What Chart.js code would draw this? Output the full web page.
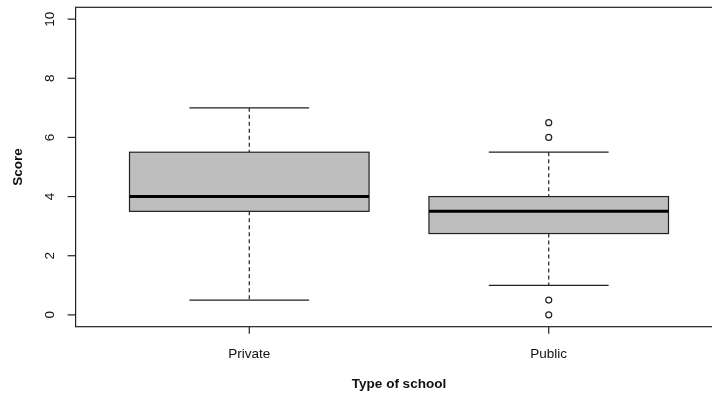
<!DOCTYPE html>
<html lang="en">
<head>
<meta charset="UTF-8" />
<title>Score by type of school</title>
<script src="https://cdn.jsdelivr.net/npm/chart.js"></script>
<style>
  body {
    margin: 0;
    background: #ffffff;
    overflow: hidden;
  }
  .chart-container {
    position: relative;
    width: 740px;
    height: 393px;
  }
</style>
</head>
<body>
<div class="chart-container">
  <canvas id="boxChart"></canvas>
</div>
<script>
// five-number summaries per group
const groups = ['Private', 'Public'];
const whiskerLow = [0.5, 1.0];
const q1 = [3.5, 2.75];
const medians = [4.0, 3.5];
const q3 = [5.5, 4.0];
const whiskerHigh = [7.0, 5.5];
const outliers = [[], [6.5, 6.0, 0.5, 0.0]];
const yTicks = [0, 2, 4, 6, 8, 10];
const xTitle = 'Type of school';
const yTitle = 'Score';

const FONT = '"Liberation Sans", Arial, sans-serif';
const LINE = '#222';
const BOX_WIDTH = 0.8;   // in x units
const CAP_WIDTH = 0.4;

// outlier points as a scatter dataset, group i sits at x = i + 1
const outlierPoints = [];
outliers.forEach((vals, i) => vals.forEach(v => outlierPoints.push({ x: i + 1, y: v })));

const boxPlugin = {
  id: 'boxPlot',
  beforeDatasetsDraw(chart) {
    const { ctx, scales: { x, y } } = chart;
    ctx.save();
    groups.forEach((g, i) => {
      const cx = x.getPixelForValue(i + 1);
      const bl = x.getPixelForValue(i + 1 - BOX_WIDTH / 2);
      const br = x.getPixelForValue(i + 1 + BOX_WIDTH / 2);
      const cl = x.getPixelForValue(i + 1 - CAP_WIDTH / 2);
      const cr = x.getPixelForValue(i + 1 + CAP_WIDTH / 2);
      const yLo = y.getPixelForValue(whiskerLow[i]);
      const yQ1 = y.getPixelForValue(q1[i]);
      const yMed = y.getPixelForValue(medians[i]);
      const yQ3 = y.getPixelForValue(q3[i]);
      const yHi = y.getPixelForValue(whiskerHigh[i]);

      ctx.strokeStyle = LINE;
      ctx.lineWidth = 1.2;

      // dashed whiskers
      ctx.setLineDash([4, 3]);
      ctx.beginPath();
      ctx.moveTo(cx, yHi); ctx.lineTo(cx, yQ3);
      ctx.moveTo(cx, yQ1); ctx.lineTo(cx, yLo);
      ctx.stroke();
      ctx.setLineDash([]);

      // staples
      ctx.beginPath();
      ctx.moveTo(cl, yHi); ctx.lineTo(cr, yHi);
      ctx.moveTo(cl, yLo); ctx.lineTo(cr, yLo);
      ctx.stroke();

      // box
      ctx.fillStyle = '#bebebe';
      ctx.fillRect(bl, yQ3, br - bl, yQ1 - yQ3);
      ctx.strokeRect(bl, yQ3, br - bl, yQ1 - yQ3);

      // median
      ctx.strokeStyle = '#000';
      ctx.lineWidth = 3;
      ctx.beginPath();
      ctx.moveTo(bl, yMed); ctx.lineTo(br, yMed);
      ctx.stroke();
    });
    ctx.restore();
  },
  afterDraw(chart) {
    const { ctx, chartArea: a, scales: { x, y } } = chart;
    ctx.save();
    ctx.strokeStyle = LINE;
    ctx.fillStyle = '#111';
    ctx.lineWidth = 1.2;

    // plot frame
    ctx.strokeRect(a.left, a.top, a.right - a.left, a.bottom - a.top);

    // y axis ticks and labels
    ctx.font = '13.5px ' + FONT;
    ctx.textAlign = 'center';
    ctx.textBaseline = 'middle';
    yTicks.forEach(t => {
      const py = y.getPixelForValue(t);
      ctx.beginPath();
      ctx.moveTo(a.left - 8, py); ctx.lineTo(a.left, py);
      ctx.stroke();
      ctx.save();
      ctx.translate(a.left - 25, py);
      ctx.rotate(-Math.PI / 2);
      ctx.fillText(String(t), 0, 0);
      ctx.restore();
    });

    // x axis ticks and labels
    groups.forEach((g, i) => {
      const px = x.getPixelForValue(i + 1);
      ctx.beginPath();
      ctx.moveTo(px, a.bottom); ctx.lineTo(px, a.bottom + 7);
      ctx.stroke();
      ctx.fillText(g, px, a.bottom + 27.5);
    });

    // axis titles
    ctx.font = 'bold 13.5px ' + FONT;
    ctx.fillText(xTitle, (a.left + a.right) / 2, a.bottom + 57.5);
    ctx.save();
    ctx.translate(18, (a.top + a.bottom) / 2);
    ctx.rotate(-Math.PI / 2);
    ctx.fillText(yTitle, 0, 0);
    ctx.restore();

    ctx.restore();
  }
};

new Chart(document.getElementById('boxChart'), {
  type: 'scatter',
  data: {
    datasets: [{
      label: 'Outliers',
      data: outlierPoints,
      pointStyle: 'circle',
      pointRadius: 3,
      pointBorderWidth: 1.2,
      pointBackgroundColor: '#ffffff',
      pointBorderColor: LINE,
      clip: false
    }]
  },
  options: {
    responsive: true,
    maintainAspectRatio: false,
    animation: false,
    layout: {
      padding: { left: 75.6, top: 7.3, right: 17.6, bottom: 66.3 }
    },
    scales: {
      x: { type: 'linear', min: 0.42, max: 2.58, display: false },
      y: { type: 'linear', min: -0.4, max: 10.4, display: false }
    },
    plugins: {
      legend: { display: false },
      tooltip: { enabled: false }
    }
  },
  plugins: [boxPlugin]
});
</script>
</body>
</html>
